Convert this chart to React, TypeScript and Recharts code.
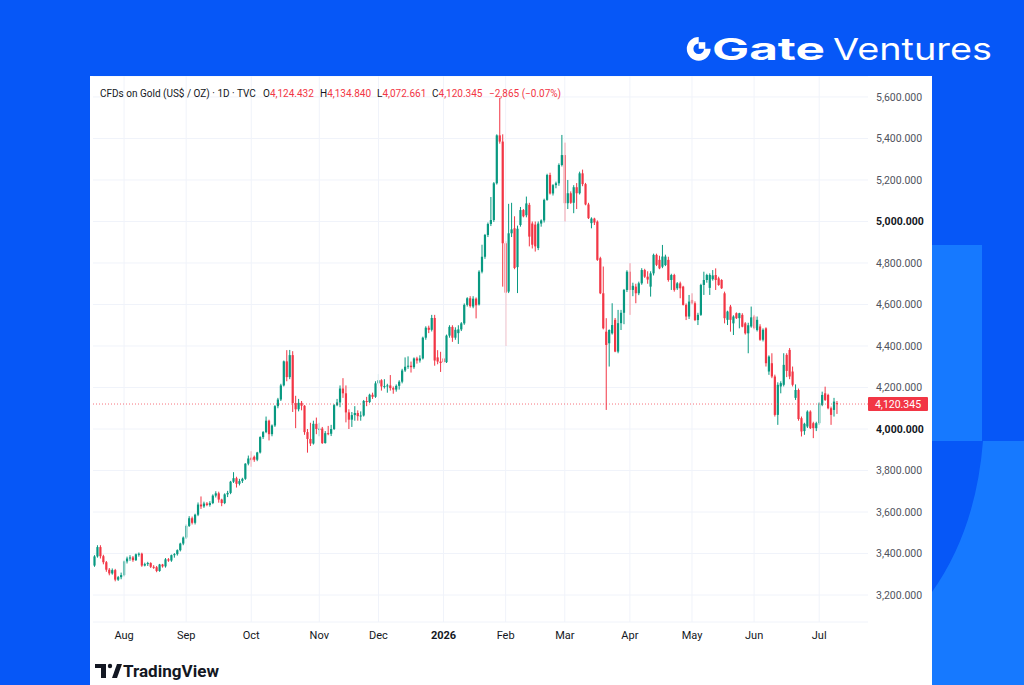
import React from 'react';
import { ComposedChart, Bar, XAxis, YAxis, CartesianGrid, ReferenceLine } from 'recharts';

// daily candles (Jul 18 2025 .. Jul 9 2026)
const OPEN = [
  3342, 3386, 3431, 3387, 3358, 3322, 3304, 3320, 3274, 3286,
  3296, 3362, 3376, 3381, 3368, 3396, 3399, 3342, 3349, 3354,
  3336, 3334, 3316, 3347, 3338, 3372, 3366, 3392, 3397, 3416,
  3448, 3477, 3533, 3570, 3548, 3587, 3636, 3627, 3641, 3634,
  3643, 3679, 3690, 3660, 3643, 3685, 3692, 3746, 3763, 3736,
  3749, 3760, 3833, 3862, 3866, 3852, 3887, 3961, 3985, 4040,
  3975, 4017, 4110, 4142, 4210, 4326, 4250, 4356, 4125, 4095,
  4126, 4112, 3985, 3952, 3930, 4025, 3995, 4002, 3932, 3980,
  3977, 4000, 4115, 4128, 4195, 4172, 4080, 4045, 4067, 4077,
  4062, 4065, 4135, 4130, 4165, 4155, 4220, 4235, 4205, 4207,
  4210, 4197, 4190, 4208, 4228, 4282, 4300, 4305, 4298, 4340,
  4330, 4340, 4440, 4488, 4478, 4535, 4345, 4325, 4340, 4322,
  4450, 4492, 4440, 4462, 4480, 4509, 4598, 4630, 4590, 4628,
  4600, 4758, 4830, 4935, 4988, 5007, 5184, 5415, 5385, 4895,
  4662, 4943, 4967, 4780, 4983, 5055, 5030, 5080, 4990, 4985,
  4872, 4990, 5005, 5104, 5224, 5135, 5175, 5184, 5272, 5320,
  5088, 5136, 5090, 5165, 5136, 5232, 5180, 5082, 4992, 5014,
  4999, 4823, 4654, 4469, 4413, 4461, 4526, 4373, 4510, 4560,
  4670, 4758, 4670, 4686, 4654, 4702, 4766, 4734, 4686, 4750,
  4839, 4815, 4782, 4790, 4815, 4718, 4742, 4678, 4702, 4686,
  4598, 4542, 4622, 4606, 4525, 4550, 4694, 4718, 4680, 4722,
  4742, 4726, 4718, 4654, 4526, 4590, 4509, 4558, 4534, 4550,
  4509, 4461, 4494, 4542, 4477, 4494, 4430, 4485, 4277, 4317,
  4253, 4068, 4205, 4213, 4357, 4381, 4277, 4150, 4188, 4052,
  3990, 4012, 4084, 4028, 4004, 4028, 4116, 4172, 4164, 4100,
  4092, 4124.432,
];
const HIGH = [
  3392, 3440, 3440, 3394, 3364, 3330, 3328, 3326, 3292, 3308,
  3366, 3385, 3392, 3388, 3400, 3405, 3404, 3356, 3360, 3358,
  3344, 3340, 3350, 3350, 3378, 3378, 3395, 3402, 3420, 3452,
  3482, 3540, 3580, 3578, 3592, 3646, 3675, 3650, 3648, 3652,
  3685, 3700, 3698, 3664, 3690, 3702, 3750, 3792, 3770, 3760,
  3765, 3835, 3872, 3893, 3872, 3890, 3965, 3990, 4060, 4045,
  4022, 4115, 4150, 4218, 4330, 4380, 4381, 4375, 4160, 4145,
  4135, 4115, 4000, 4030, 4040, 4055, 4030, 4010, 3990, 4015,
  4020, 4120, 4145, 4210, 4245, 4210, 4095, 4082, 4110, 4090,
  4085, 4140, 4155, 4170, 4175, 4230, 4265, 4240, 4240, 4218,
  4260, 4205, 4215, 4235, 4290, 4345, 4350, 4325, 4345, 4348,
  4355, 4445, 4495, 4498, 4550, 4550, 4380, 4372, 4360, 4455,
  4500, 4500, 4490, 4500, 4515, 4605, 4635, 4640, 4640, 4634,
  4765, 4888, 4940, 4995, 5118, 5190, 5420, 5595, 5420, 4905,
  5085, 5090, 5025, 4980, 5070, 5060, 5120, 5090, 5000, 5000,
  5000, 5010, 5110, 5230, 5235, 5180, 5192, 5280, 5417, 5380,
  5200, 5145, 5175, 5185, 5240, 5250, 5186, 5090, 5020, 5018,
  5005, 4830, 4783, 4534, 4480, 4606, 4535, 4574, 4574, 4675,
  4765, 4799, 4705, 4700, 4710, 4775, 4772, 4760, 4760, 4845,
  4845, 4835, 4887, 4840, 4830, 4748, 4748, 4708, 4710, 4690,
  4605, 4646, 4654, 4615, 4560, 4700, 4758, 4748, 4750, 4766,
  4774, 4734, 4722, 4662, 4570, 4598, 4548, 4562, 4560, 4558,
  4515, 4512, 4590, 4550, 4542, 4505, 4485, 4490, 4355, 4365,
  4262, 4225, 4230, 4365, 4365, 4390, 4301, 4215, 4195, 4060,
  4030, 4090, 4090, 4035, 4035, 4130, 4180, 4204, 4170, 4108,
  4150, 4134.84,
];
const LOW = [
  3336, 3380, 3376, 3348, 3312, 3295, 3298, 3266, 3268, 3276,
  3290, 3352, 3365, 3360, 3364, 3385, 3336, 3338, 3340, 3330,
  3326, 3310, 3312, 3332, 3332, 3360, 3360, 3380, 3390, 3410,
  3440, 3470, 3528, 3540, 3540, 3580, 3615, 3620, 3628, 3626,
  3638, 3670, 3645, 3628, 3638, 3672, 3686, 3740, 3718, 3728,
  3740, 3755, 3825, 3818, 3842, 3845, 3882, 3952, 3980, 3945,
  3965, 4010, 4100, 4135, 4205, 4230, 4240, 4082, 4004, 4085,
  4090, 3972, 3886, 3918, 3925, 3975, 3965, 3928, 3930, 3970,
  3966, 3995, 4110, 4105, 4150, 4032, 4000, 4010, 4040, 4040,
  4040, 4060, 4110, 4125, 4145, 4150, 4210, 4185, 4195, 4175,
  4185, 4170, 4180, 4190, 4220, 4275, 4290, 4272, 4290, 4315,
  4320, 4335, 4430, 4462, 4470, 4305, 4312, 4275, 4310, 4318,
  4440, 4420, 4430, 4410, 4472, 4502, 4590, 4585, 4582, 4533,
  4595, 4750, 4820, 4925, 4978, 4998, 5178, 5375, 4686, 4400,
  4655, 4925, 4770, 4655, 4975, 5020, 5020, 4880, 4870, 4855,
  4862, 4975, 4995, 5100, 5130, 5125, 5160, 5172, 5265, 5000,
  5060, 5085, 5040, 5060, 5130, 5170, 5078, 5012, 4967, 4983,
  4810, 4650, 4480, 4092, 4301, 4455, 4370, 4365, 4477, 4505,
  4660, 4550, 4640, 4606, 4645, 4695, 4728, 4700, 4638, 4740,
  4785, 4770, 4775, 4785, 4710, 4670, 4662, 4670, 4630, 4595,
  4525, 4530, 4600, 4520, 4501, 4545, 4646, 4705, 4646, 4715,
  4670, 4690, 4675, 4509, 4501, 4469, 4453, 4530, 4485, 4490,
  4455, 4365, 4488, 4480, 4470, 4425, 4422, 4301, 4261, 4245,
  4060, 4020, 4172, 4205, 4250, 4240, 4205, 4140, 4040, 3964,
  3972, 4005, 4000, 3956, 3990, 4020, 4110, 4135, 4095, 4020,
  4060, 4072.661,
];
const CLOSE = [
  3386, 3431, 3387, 3358, 3322, 3304, 3320, 3274, 3286, 3296,
  3362, 3376, 3381, 3368, 3396, 3399, 3342, 3349, 3354, 3336,
  3334, 3316, 3347, 3338, 3372, 3366, 3392, 3397, 3416, 3448,
  3477, 3533, 3570, 3548, 3587, 3636, 3627, 3641, 3634, 3643,
  3679, 3690, 3660, 3643, 3685, 3692, 3746, 3763, 3736, 3749,
  3760, 3833, 3858, 3850, 3852, 3887, 3961, 3985, 4040, 3975,
  4017, 4110, 4142, 4210, 4326, 4250, 4356, 4125, 4095, 4126,
  4112, 3985, 3952, 3930, 4025, 4000, 4002, 3932, 3980, 3977,
  4000, 4115, 4128, 4195, 4172, 4080, 4045, 4067, 4077, 4062,
  4065, 4135, 4130, 4165, 4155, 4220, 4235, 4205, 4207, 4210,
  4197, 4190, 4208, 4228, 4282, 4300, 4305, 4298, 4340, 4330,
  4340, 4440, 4488, 4478, 4535, 4330, 4325, 4318, 4322, 4450,
  4492, 4440, 4478, 4480, 4509, 4598, 4630, 4592, 4628, 4596,
  4758, 4830, 4935, 4988, 5007, 5184, 5415, 5385, 4895, 4657,
  4943, 4962, 4776, 4965, 5055, 5025, 5087, 4927, 4888, 4880,
  4990, 5005, 5104, 5224, 5135, 5175, 5184, 5272, 5320, 5088,
  5136, 5090, 5165, 5136, 5232, 5180, 5082, 5016, 5014, 4995,
  4815, 4654, 4485, 4405, 4477, 4501, 4373, 4510, 4560, 4670,
  4758, 4670, 4690, 4654, 4702, 4766, 4734, 4720, 4750, 4839,
  4791, 4774, 4831, 4831, 4718, 4742, 4670, 4702, 4678, 4598,
  4542, 4614, 4606, 4525, 4550, 4694, 4718, 4742, 4742, 4740,
  4718, 4694, 4678, 4534, 4566, 4526, 4542, 4534, 4558, 4493,
  4461, 4500, 4538, 4486, 4526, 4430, 4478, 4317, 4349, 4253,
  4068, 4213, 4221, 4309, 4280, 4253, 4213, 4188, 4048, 3988,
  4025, 4084, 4004, 4004, 4028, 4124, 4164, 4140, 4100, 4068,
  4132, 4120.345,
];

const PRICE_TICKS = [3200, 3400, 3600, 3800, 4000, 4200, 4400, 4600, 4800, 5000, 5200, 5400, 5600];
const MONTH_LABELS = ['Aug', 'Sep', 'Oct', 'Nov', 'Dec', '2026', 'Feb', 'Mar', 'Apr', 'May', 'Jun', 'Jul'];
const FIRST_DAY = '2025-07-18';
const HOLIDAYS = ['2025-12-25', '2026-01-01', '2026-04-03'];
const EMPTY_BARS = 10; // blank space right of the last candle

const UP = '#089981';
const DOWN = '#f23645';
const FONT = "Roboto, 'Liberation Sans', sans-serif";

function tradingDays(start: string, count: number) {
  const out: string[] = [];
  const d = new Date(start + 'T00:00:00Z');
  while (out.length < count) {
    const dow = d.getUTCDay();
    const iso = d.toISOString().slice(0, 10);
    if (dow !== 0 && dow !== 6 && !HOLIDAYS.includes(iso)) out.push(iso);
    d.setUTCDate(d.getUTCDate() + 1);
  }
  return out;
}

const dates = tradingDays(FIRST_DAY, CLOSE.length + EMPTY_BARS);
const data = dates.map((d, i) =>
  i < CLOSE.length ? { d, o: OPEN[i], h: HIGH[i], l: LOW[i], c: CLOSE[i] } : { d }
);
const monthTicks = dates.filter((d, i) => i > 0 && d.slice(0, 7) !== dates[i - 1].slice(0, 7));
const lastClose = CLOSE[CLOSE.length - 1];

const fmt = (v: number) =>
  v.toLocaleString('en-US', { minimumFractionDigits: 3, maximumFractionDigits: 3 });

const Candle = (props: any) => {
  const { x, y, width, height, payload } = props;
  if (!payload || payload.h == null) return <g />;
  const top = Math.min(y, y + height);
  const span = Math.abs(height);
  const k = payload.h === payload.l ? 0 : span / (payload.h - payload.l);
  const py = (v: number) => top + (payload.h - v) * k;
  const color = payload.c >= payload.o ? UP : DOWN;
  const cx = x + width / 2;
  const bodyTop = py(Math.max(payload.o, payload.c));
  const bodyH = Math.max(1, Math.abs(py(payload.o) - py(payload.c)));
  return (
    <g>
      <rect x={cx - 0.5} y={top} width={1} height={Math.max(span, 1)} fill={color} />
      <rect x={cx - 1.1} y={bodyTop} width={2.2} height={bodyH} fill={color} />
    </g>
  );
};

const PriceTick = ({ x, y, payload }: any) => {
  const bold = payload.value % 1000 === 0;
  return (
    <text x={x + 8} y={y} dy="0.35em" fontSize={10.5} fontFamily={FONT}
      fill={bold ? '#131722' : '#50535e'} fontWeight={bold ? 700 : 400}>
      {fmt(payload.value)}
    </text>
  );
};

const DateTick = ({ x, y, payload }: any) => {
  const label = MONTH_LABELS[monthTicks.indexOf(payload.value)] ?? '';
  return (
    <text x={x} y={y + 17} textAnchor="middle" fontSize={11} fontFamily={FONT}
      fill="#131722" fontWeight={label === '2026' ? 700 : 400}>
      {label}
    </text>
  );
};

const PriceLabel = ({ viewBox }: any) => {
  const x = viewBox.x + viewBox.width;
  const y = viewBox.y;
  return (
    <g>
      <rect x={x} y={y - 7} width={60} height={14} fill={DOWN} rx={1} />
      <text x={x + 30} y={y} dy="0.35em" textAnchor="middle" fontSize={10.5}
        fontFamily={FONT} fill="#ffffff">{fmt(lastClose)}</text>
    </g>
  );
};

const headerItem = (left: number, children: React.ReactNode) => (
  <div style={{ position: 'absolute', left, top: 88, fontSize: 10, lineHeight: '12px',
    whiteSpace: 'nowrap', color: '#131722', fontFamily: FONT }}>{children}</div>
);
const red = (s: string) => <span style={{ color: DOWN }}>{s}</span>;

export default function App() {
  return (
    <div style={{ position: 'fixed', left: 0, top: 0, width: 1024, height: 685,
      overflow: 'hidden', fontFamily: FONT }}>
      <svg width={1024} height={685} style={{ position: 'absolute', left: 0, top: 0 }}>
        <rect width={1024} height={685} fill="#0657f7" />
        <rect x={932} y={245} width={50} height={196} fill="#1679ff" />
        <path d="M983 441 Q976 530 932 592 L932 685 L1024 685 L1024 441 Z" fill="#1679ff" />
        {/* Gate Ventures logo */}
        <path d="M698.7 40.2 A8.6 8.6 0 1 0 707.3 48.8" fill="none" stroke="#ffffff" strokeWidth={6.6} />
        <rect x={698.7} y={42.2} width={6.6} height={6.6} fill="#ffffff" />
        <text x={712} y={60} fill="#ffffff" fontFamily="Inter, sans-serif" fontWeight={700}
          fontSize={30} textLength={113} lengthAdjust="spacingAndGlyphs">Gate</text>
        <text x={833} y={60} fill="#ffffff" fontFamily="Inter, sans-serif" fontWeight={400}
          fontSize={30} textLength={159} lengthAdjust="spacingAndGlyphs">Ventures</text>
      </svg>

      <div style={{ position: 'absolute', left: 90, top: 76, width: 842, height: 609, background: '#ffffff' }}>
        <ComposedChart width={842} height={609} data={data} barCategoryGap={0}
          margin={{ top: 0, right: 0, left: 3, bottom: 35 }}>
          <CartesianGrid stroke="#f0f3fa" vertical={false} />
          {monthTicks.map((d) => (
            <ReferenceLine key={d} x={d} stroke="#f0f3fa" />
          ))}
          <XAxis dataKey="d" type="category" ticks={monthTicks} interval={0} height={28}
            axisLine={false} tickLine={false} tickSize={0} tickMargin={0} tick={<DateTick />} />
          <YAxis orientation="right" type="number" domain={[3070, 5701]} ticks={PRICE_TICKS}
            allowDataOverflow width={64} axisLine={false} tickLine={false} tickSize={0}
            tickMargin={0} tick={<PriceTick />} />
          <ReferenceLine y={lastClose} stroke={DOWN} strokeDasharray="1 2" strokeOpacity={0.7}
            label={<PriceLabel />} />
          <Bar dataKey={(e: any) => (e.h == null ? null : [e.l, e.h])} shape={<Candle />}
            isAnimationActive={false} />
        </ComposedChart>
      </div>

      {headerItem(100, 'CFDs on Gold (US$ / OZ) · 1D · TVC')}
      {headerItem(263, <>O{red('4,124.432')}</>)}
      {headerItem(320, <>H{red('4,134.840')}</>)}
      {headerItem(377, <>L{red('4,072.661')}</>)}
      {headerItem(432, <>C{red('4,120.345')}</>)}
      {headerItem(489, red('−2,865 (−0.07%)'))}

      {/* TradingView watermark */}
      <svg width={140} height={24} style={{ position: 'absolute', left: 92, top: 659 }}>
        <rect x={3} y={5} width={11} height={4} fill="#131722" />
        <rect x={9} y={5} width={5} height={14} fill="#131722" />
        <circle cx={18} cy={7} r={2.2} fill="#131722" />
        <path d="M20 19 L25 5 L30 5 L25 19 Z" fill="#131722" />
        <text x={31} y={18} fontSize={16} fontWeight={700} fontFamily={FONT} fill="#131722"
          textLength={96} lengthAdjust="spacingAndGlyphs">TradingView</text>
      </svg>
    </div>
  );
}
